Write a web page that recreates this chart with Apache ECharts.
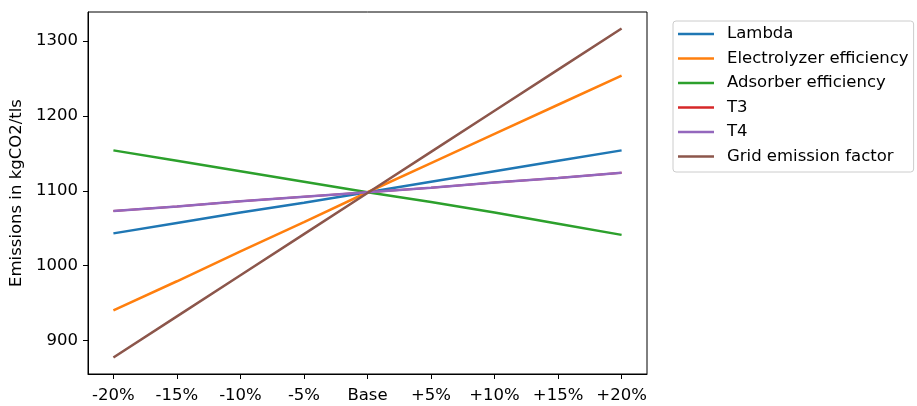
<!DOCTYPE html>
<html>
<head>
<meta charset="utf-8">
<script src="https://cdn.jsdelivr.net/npm/echarts@6/dist/echarts.min.js"></script>
<style>
  html, body { margin: 0; padding: 0; background: #fff; }
  #chart { width: 917px; height: 406px; }
</style>
</head>
<body>
<div id="chart"></div>
<script>
// x positions (percent change) and their labels
const steps = [-20, -15, -10, -5, 0, 5, 10, 15, 20];
const stepLabels = ['-20%', '-15%', '-10%', '-5%', 'Base', '+5%', '+10%', '+15%', '+20%'];
const yTicks = [900, 1000, 1100, 1200, 1300];

// emissions in kgCO2/tls
const lambda      = [1043, 1057, 1071, 1084, 1098, 1112, 1126, 1140, 1154];
const electrolyzer = [940, 979, 1019, 1058, 1098, 1137, 1176, 1215, 1254];
const adsorber    = [1154, 1140, 1126, 1112, 1098, 1085, 1071, 1056, 1041];
const t3          = [1073, 1079, 1086, 1092, 1098, 1104, 1111, 1117, 1124];
const t4          = [1073, 1079, 1086, 1092, 1098, 1104, 1111, 1117, 1124];
const gridFactor  = [877, 932, 987, 1042, 1097, 1152, 1207, 1262, 1317];

const names = ['Lambda', 'Electrolyzer efficiency', 'Adsorber efficiency', 'T3', 'T4', 'Grid emission factor'];
const values = [lambda, electrolyzer, adsorber, t3, t4, gridFactor];
const colors = ['#1f77b4', '#ff7f0e', '#2ca02c', '#d62728', '#9467bd', '#8c564b'];

const font = 'DejaVu Sans';
const fs = 16.5;

let myChart = echarts.init(document.getElementById('chart'));

let series = names.map(function(name, i){
	return {
		name: name,
		type: 'line',
		showSymbol: false,
		// T3 sits exactly under T4
		lineStyle: { width: name == 'T3' ? 2 : 2.5, color: colors[i] },
		itemStyle: { color: colors[i] },
		data: steps.map(function(s, j){ return [s, values[i][j]]; })
	};
});

let option = {
	animation: false,
	textStyle: { fontFamily: font },
	grid: {
		left: 88, top: 12, right: 270, bottom: 32,
		show: true, borderColor: '#000', borderWidth: 1
	},
	legend: {
		orient: 'vertical',
		left: 673, top: 21,
		data: names,
		icon: 'rect',
		itemWidth: 36, itemHeight: 2.5,
		itemGap: 5.5,
		padding: [3.5, 5, 6, 5],
		borderColor: '#cccccc', borderWidth: 1, borderRadius: 3,
		textStyle: { fontFamily: font, fontSize: fs, color: '#000', lineHeight: 19, padding: [0, 0, 0, 8] }
	},
	xAxis: {
		type: 'value',
		min: -22, max: 22,
		splitLine: { show: false },
		axisLine: { onZero: false, lineStyle: { color: '#000', width: 1 } },
		axisTick: { length: 5, lineStyle: { color: '#000' }, customValues: steps },
		axisLabel: {
			customValues: steps,
			margin: 13,
			fontSize: fs, color: '#000', fontFamily: font,
			formatter: function(v){ return stepLabels[steps.indexOf(v)]; }
		}
	},
	yAxis: {
		type: 'value',
		min: 855, max: 1339,
		name: 'Emissions in kgCO2/tls',
		nameLocation: 'middle',
		nameGap: 61,
		nameTextStyle: { fontSize: fs, color: '#000', fontFamily: font },
		splitLine: { show: false },
		axisLine: { show: true, onZero: false, lineStyle: { color: '#000', width: 1 } },
		axisTick: { show: true, length: 5, lineStyle: { color: '#000' }, customValues: yTicks },
		axisLabel: {
			customValues: yTicks, margin: 10, fontSize: fs, color: '#000', fontFamily: font,
			formatter: function(v){ return String(v); }
		}
	},
	series: series
};

myChart.setOption(option);
</script>
</body>
</html>
